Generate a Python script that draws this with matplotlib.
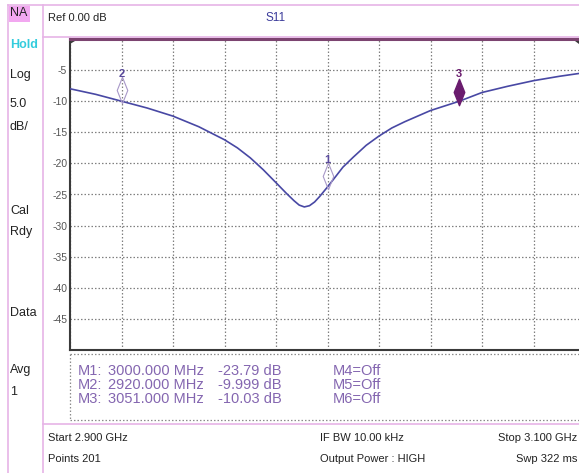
import numpy as np
import matplotlib
matplotlib.use("Agg")
import matplotlib.pyplot as plt
from matplotlib.path import Path
from matplotlib.patches import Polygon
from matplotlib.transforms import offset_copy

plt.rcParams["font.family"] = ["Liberation Sans", "DejaVu Sans"]

# ---------------------------------------------------------------------------
# Sweep data (S11, log magnitude)
# ---------------------------------------------------------------------------
FREQ_MHZ = [2900, 2910, 2920, 2930, 2940, 2950, 2960, 2965, 2970, 2975,
            2980, 2984, 2987, 2989, 2991, 2993, 2995, 2997, 3000, 3003,
            3006, 3010, 3015, 3020, 3025, 3030, 3040, 3051, 3060, 3070,
            3080, 3090, 3100]
S11_DB = [-8.0, -8.9, -9.999, -11.1, -12.4, -14.1, -16.2, -17.5, -19.1, -21.0,
          -23.1, -24.8, -26.0, -26.7, -27.0, -26.8, -26.2, -25.3, -23.79, -22.2,
          -20.6, -19.0, -17.1, -15.6, -14.3, -13.3, -11.5, -10.03, -8.6, -7.6,
          -6.7, -6.0, -5.4]

MARKER_IDS = ["1", "2", "3"]
MARKER_FREQ = [3000.0, 2920.0, 3051.0]
MARKER_DB = [-23.79, -9.999, -10.03]
ACTIVE_MARKER = "3"

Y_TICKS = [-5, -10, -15, -20, -25, -30, -35, -40, -45]
SIDE_LABELS = [("NA", 13), ("Hold", 45), ("Log", 75), ("5.0", 104), ("dB/", 127),
               ("Cal", 211), ("Rdy", 232), ("Data", 313), ("Avg", 370), ("1", 392)]

W, H = 579, 473
PINK = "#e6b4e6"
TRACE = "#4848a4"
MK_TXT = "#8466b0"
MK_DARK = "#6a1c6e"

fig = plt.figure(figsize=(W / 100, H / 100), dpi=100)


def fx(px):
    return px / W


def fy(py):
    return 1 - py / H


# --- Panel frame lines ---
frame = fig.add_axes([0, 0, 1, 1], zorder=0)
frame.set_xlim(0, W)
frame.set_ylim(H, 0)
frame.axis("off")
frame.plot([8, 8], [5, H], color=PINK, lw=1.2)
frame.plot([43, 43], [5, H], color=PINK, lw=1.2)
frame.plot([8, W], [5, 5], color=PINK, lw=1.2)
frame.plot([43, W], [37, 37], color=PINK, lw=1.2)
frame.plot([43, W], [424, 424], color=PINK, lw=1.2)
frame.add_patch(Polygon([[9, 6], [30, 6], [30, 22], [9, 22]], closed=True,
                        facecolor="#f2a8f0", edgecolor="none"))

# --- Trace axes ---
ax = fig.add_axes([fx(70), fy(350), 515 / W, 311 / H], zorder=2)
ax.patch.set_alpha(0)
ax.plot(FREQ_MHZ, S11_DB, color=TRACE, lw=1.2, zorder=4)
ax.set_xlim(2900, 3100)
ax.set_ylim(-50, 0)
ax.set_xticks(np.arange(2900, 3101, 20))
ax.set_yticks(Y_TICKS)
ax.set_yticklabels([str(t) for t in Y_TICKS], fontsize=7.5, color="#555555")
ax.tick_params(axis="y", length=0, pad=2)
ax.tick_params(axis="x", length=0, labelbottom=False)
ax.grid(True, color="#808080", linestyle=(0, (1.2, 1.6)), linewidth=0.9)

ax.spines["right"].set_visible(False)
ax.spines["left"].set_color("#3a3a3a")
ax.spines["left"].set_linewidth(1.5)
ax.spines["bottom"].set_color("#3a3a3a")
ax.spines["bottom"].set_linewidth(1.5)
ax.spines["top"].set_color("#7c4470")
ax.spines["top"].set_linewidth(2.2)

# corner flags on the top border
frame.add_patch(Polygon([[70, 38], [80, 38], [70, 44]], closed=True,
                        facecolor="#3a3a3a", edgecolor="none", zorder=5))
frame.add_patch(Polygon([[571, 38], [579, 38], [579, 44]], closed=True,
                        facecolor="#3a3a3a", edgecolor="none", zorder=5))

# --- Markers ---
diamond = Path([(0, -1), (0.4, 0), (0, 1), (-0.4, 0), (0, -1)],
               [Path.MOVETO, Path.LINETO, Path.LINETO, Path.LINETO, Path.CLOSEPOLY])
for mid, f, db in zip(MARKER_IDS, MARKER_FREQ, MARKER_DB):
    if mid == ACTIVE_MARKER:
        tr = offset_copy(ax.transData, fig=fig, y=9, units="dots")
        ax.plot([f], [db], marker=diamond, markersize=19, color=MK_DARK,
                transform=tr, zorder=6, clip_on=False)
        col = MK_DARK
    else:
        tr = offset_copy(ax.transData, fig=fig, y=11, units="dots")
        ax.plot([f], [db], marker=diamond, markersize=19, markerfacecolor="none",
                markeredgecolor="#a898c8", markeredgewidth=0.8, linestyle="none",
                transform=tr, zorder=6, clip_on=False)
        col = "#5a4a9c"
    ltr = offset_copy(ax.transData, fig=fig, y=27, units="dots")
    ax.text(f, db, mid, transform=ltr, ha="center", va="center",
            fontsize=8, fontweight="bold", color=col, zorder=7)

# --- Marker readout box ---
frame.plot([70, W], [354, 354], color="#8c8c8c", lw=0.9, ls=(0, (1.2, 1.6)))
frame.plot([70, W], [420, 420], color="#8c8c8c", lw=0.9, ls=(0, (1.2, 1.6)))
frame.plot([70, 70], [354, 420], color="#8c8c8c", lw=0.9, ls=(0, (1.2, 1.6)))

rows_y = [371, 385, 399]
for i, (f, db) in enumerate(zip(MARKER_FREQ, MARKER_DB)):
    y = rows_y[i]
    frame.text(78, y, f"M{i + 1}:", fontsize=10.5, color=MK_TXT, va="center")
    frame.text(108, y, f"{f:.3f} MHz", fontsize=10.5, color=MK_TXT, va="center")
    db_txt = f"{db:.3f} dB" if abs(db) < 10 else f"{db:.2f} dB"
    frame.text(218, y, db_txt, fontsize=10.5, color=MK_TXT, va="center")
    frame.text(333, y, f"M{i + 4}=Off", fontsize=10.5, color=MK_TXT, va="center")

# --- Header and footer text ---
frame.text(48, 18, "Ref 0.00 dB", fontsize=8, color="#222222", va="center")
frame.text(265, 18, "S11", fontsize=8.5, color="#3a3a9a", va="center")

frame.text(48, 438, "Start 2.900 GHz", fontsize=8, color="#222222", va="center")
frame.text(320, 438, "IF BW 10.00 kHz", fontsize=8, color="#222222", va="center")
frame.text(577, 438, "Stop 3.100 GHz", fontsize=8, color="#222222", va="center", ha="right")
frame.text(48, 459, "Points 201", fontsize=8, color="#222222", va="center")
frame.text(320, 459, "Output Power : HIGH", fontsize=8, color="#222222", va="center")
frame.text(577, 459, "Swp 322 ms", fontsize=8, color="#222222", va="center", ha="right")

# --- Status column ---
for label, y in SIDE_LABELS:
    color = "#33ccdd" if label == "Hold" else "#222222"
    weight = "bold" if label == "Hold" else "normal"
    frame.text(10, y, label, fontsize=9, color=color, fontweight=weight, va="center")

fig.savefig("out.png", dpi=100)
